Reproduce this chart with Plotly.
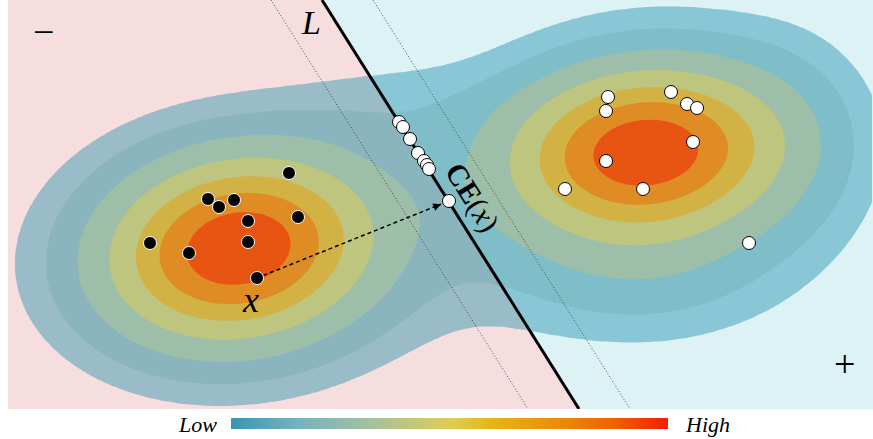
import numpy as np
import plotly.graph_objects as go

W, H = 873, 439
PLOT_LEFT, PLOT_BOTTOM = 8, 409  # plot area in pixel-like data units

# Density model: mixture of anisotropic Gaussian bumps (centre, spread, tilt, weight)
comp_cx = [238, 240, 645, 650, 640, 800, 395]
comp_cy = [248, 252, 150, 172, 280, 130, 100]
comp_sx = [84, 135, 85, 135, 90, 55, 75]
comp_sy = [58, 92, 52, 100, 45, 80, 35]
comp_ang = [10, 4, 5, 5, 0, 0, 0]
comp_w = [0.8, 0.3, 0.8, 0.3, 0.06, 0.05, 0.05]

# density thresholds of the filled contour bands (fraction of peak)
density_levels = [0.088, 0.147, 0.245, 0.39, 0.545, 0.694, 0.855]

# band colours: background (transparent), outer -> inner
band_colors = [
    "rgba(0,0,0,0)",
    "rgba(16,134,167,0.40)",
    "rgba(104,170,170,0.30)",
    "rgb(157,190,168)",
    "rgb(189,197,127)",
    "rgb(210,178,68)",
    "rgb(224,140,36)",
    "rgb(232,84,18)",
]

# decision boundary L: x position at top and bottom edge of plot
line_top_x, line_bottom_x = 322, 579
margin_offset = 51

# negative class points (black)
neg_x = [289, 208, 219, 234, 298, 248, 248, 150, 189, 257]
neg_y = [173, 199, 207, 200, 217, 221, 242, 243, 253, 278]
# positive class points (white)
pos_x = [608, 606, 671, 687, 697, 693, 606, 565, 643, 749]
pos_y = [97, 111, 92, 104, 108, 142, 161, 189, 189, 243]
# counterfactuals on the boundary
cf_x = [399, 403, 410, 418, 424, 427, 429]
cf_y = [122, 127, 139, 153, 161, 165, 169]
# query point x and its counterfactual CE(x)
query = (257, 278)
ce = (449, 201)

# colorbar gradient
bar_scale = [
    [0.0, "rgb(58,150,178)"],
    [0.15, "rgb(118,178,190)"],
    [0.32, "rgb(165,192,160)"],
    [0.5, "rgb(222,205,85)"],
    [0.6, "rgb(230,180,20)"],
    [0.75, "rgb(236,140,8)"],
    [0.88, "rgb(240,95,0)"],
    [1.0, "rgb(245,30,0)"],
]

# ---- density grid ----
gx = np.arange(PLOT_LEFT, W + 1, 3.0)
gy = np.arange(0, PLOT_BOTTOM + 1, 3.0)
X, Y = np.meshgrid(gx, gy)
Z = np.zeros_like(X)
for cx, cy, sx, sy, a, w in zip(comp_cx, comp_cy, comp_sx, comp_sy, comp_ang, comp_w):
    t = np.deg2rad(a)
    dx, dy = X - cx, Y - cy
    u = dx * np.cos(t) - dy * np.sin(t)
    v = dx * np.sin(t) + dy * np.cos(t)
    Z += w * np.exp(-0.5 * ((u / sx) ** 2 + (v / sy) ** 2))
Z /= Z.max()
# map thresholds onto equally spaced band indices
n_lv = len(density_levels)
Zb = np.interp(Z, [0.0] + density_levels + [1.0], [-1.0] + list(range(n_lv)) + [n_lv])

zmin = -1.25
zmax = zmin + 8
cscale = []
for k, c in enumerate(band_colors):
    cscale.append([k / 8, c])
    cscale.append([(k + 1) / 8, c])

fig = go.Figure()

# background half-planes split by L
fig.add_shape(type="path", layer="below", line_width=0, fillcolor="rgb(247,222,222)",
              path=f"M {PLOT_LEFT},0 L {line_top_x},0 L {line_bottom_x},{PLOT_BOTTOM} L {PLOT_LEFT},{PLOT_BOTTOM} Z")
fig.add_shape(type="path", layer="below", line_width=0, fillcolor="rgb(220,242,245)",
              path=f"M {line_top_x},0 L {W},0 L {W},{PLOT_BOTTOM} L {line_bottom_x},{PLOT_BOTTOM} Z")

fig.add_trace(go.Contour(
    x=gx, y=gy, z=Zb, zmin=zmin, zmax=zmax, colorscale=cscale, showscale=False,
    contours=dict(start=0, end=n_lv - 1, size=1, coloring="fill"),
    line=dict(width=0, smoothing=1.3), hoverinfo="skip",
))

# margin lines (dotted) and boundary
for off in (-margin_offset, margin_offset):
    fig.add_trace(go.Scatter(x=[line_top_x + off, line_bottom_x + off], y=[0, PLOT_BOTTOM],
                             mode="lines", line=dict(color="rgba(60,60,60,0.9)", width=1, dash="1px,2px"),
                             hoverinfo="skip"))
fig.add_trace(go.Scatter(x=[line_top_x, line_bottom_x], y=[0, PLOT_BOTTOM], mode="lines",
                         line=dict(color="black", width=3), hoverinfo="skip"))

# dashed arrow from x to CE(x)
fig.add_trace(go.Scatter(x=[query[0], ce[0] - 8], y=[query[1], ce[1] + 3.2], mode="lines",
                         line=dict(color="black", width=1.5, dash="4px,3px"), hoverinfo="skip"))
fig.add_annotation(x=ce[0] - 8, y=ce[1] + 3.2, ax=ce[0] - 16, ay=ce[1] + 6.4,
                   xref="x", yref="y", axref="x", ayref="y", text="", showarrow=True,
                   arrowhead=2, arrowsize=1.2, arrowwidth=1.3, arrowcolor="black")

fig.add_trace(go.Scatter(x=neg_x, y=neg_y, mode="markers",
                         marker=dict(size=13, color="black", line=dict(color="white", width=1))))
fig.add_trace(go.Scatter(x=pos_x + cf_x + [ce[0]], y=pos_y + cf_y + [ce[1]], mode="markers",
                         marker=dict(size=13, color="white", line=dict(color="black", width=1))))

# gradient bar
fig.add_trace(go.Heatmap(z=[np.linspace(0, 1, 256)], colorscale=bar_scale, showscale=False,
                         zsmooth="best", xaxis="x2", yaxis="y2", hoverinfo="skip"))

serif = "Liberation Serif"
def label(text, x, y, size, ref="x", angle=0):
    fig.add_annotation(text=text, x=x, y=y, xref=ref, yref="y" if ref == "x" else "paper",
                       xanchor="center", yanchor="middle", showarrow=False, textangle=angle,
                       font=dict(family=serif, size=size, color="black"))

label("<i>L</i>", 311, 22, 34)
label("<i>x</i>", 250, 300, 36)
label("−", 43, 32, 38)
label("+", 844, 364, 38)
label("<b>CE</b>(<i>x</i>)", 472, 197, 30, angle=58)
label("<i>Low</i>", 197 / W, (H - 424) / H, 22, ref="paper")
label("<i>High</i>", 707 / W, (H - 424) / H, 22, ref="paper")

fig.update_layout(
    width=W, height=H, margin=dict(l=0, r=0, t=0, b=0),
    paper_bgcolor="white", plot_bgcolor="white", showlegend=False,
    font=dict(family=serif),
    xaxis=dict(domain=[PLOT_LEFT / W, 1], range=[PLOT_LEFT, W], visible=False),
    yaxis=dict(domain=[(H - PLOT_BOTTOM) / H, 1], range=[PLOT_BOTTOM, 0], visible=False),
    xaxis2=dict(domain=[231 / W, 668 / W], visible=False, anchor="y2"),
    yaxis2=dict(domain=[(H - 429) / H, (H - 418) / H], visible=False, anchor="x2"),
)

fig.write_html("out.html")
